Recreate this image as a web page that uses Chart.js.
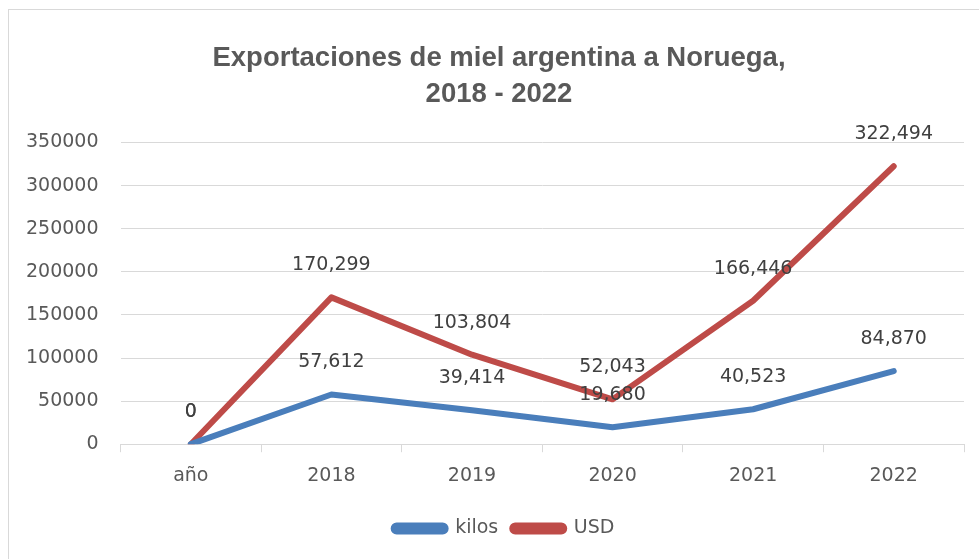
<!DOCTYPE html>
<html>
<head>
<meta charset="utf-8">
<script src="https://cdn.jsdelivr.net/npm/chart.js@4/dist/chart.umd.min.js"></script>
<style>
  html, body { margin: 0; padding: 0; background: #fff; }
  #frame { position: absolute; left: 8px; top: 9px; width: 1000px; height: 600px; border: 1px solid #d9d9d9; box-sizing: border-box; }
  #wrap { position: absolute; left: 0; top: 0; width: 979px; height: 559px; }
</style>
</head>
<body>
<div id="frame"></div>
<div id="wrap"><canvas id="c" width="979" height="559"></canvas></div>
<script>
const categories = ['año', '2018', '2019', '2020', '2021', '2022'];
const kilos = [0, 57612, 39414, 19680, 40523, 84870];
const usd = [0, 170299, 103804, 52043, 166446, 322494];
const yTicks = [0, 50000, 100000, 150000, 200000, 250000, 300000, 350000];

const labelFont = '19px "DejaVu Sans", sans-serif';

const dataLabels = {
  id: 'dataLabels',
  afterLayout(chart) {
    if (chart.legend) { chart.legend.left += 20; chart.legend.right += 20; }
    if (chart.titleBlock) { chart.titleBlock.left += 15; chart.titleBlock.right += 15; }
  },
  afterDatasetsDraw(chart) {
    const ctx = chart.ctx;
    ctx.save();
    ctx.font = labelFont;
    ctx.fillStyle = '#404040';
    ctx.textAlign = 'center';
    ctx.textBaseline = 'middle';
    chart.data.datasets.forEach((ds, i) => {
      const meta = chart.getDatasetMeta(i);
      meta.data.forEach((pt, j) => {
        const v = ds.data[j];
        ctx.fillText(v.toLocaleString('en-US'), pt.x, pt.y - 32);
      });
    });
    ctx.restore();
  }
};

new Chart(document.getElementById('c'), {
  type: 'line',
  data: {
    labels: categories,
    datasets: [
      { label: 'kilos', data: kilos, borderColor: '#4a7ebb', backgroundColor: '#4a7ebb', borderWidth: 6, pointRadius: 0, tension: 0, borderCapStyle: 'round', borderJoinStyle: 'round' },
      { label: 'USD', data: usd, borderColor: '#be4b48', backgroundColor: '#be4b48', borderWidth: 6, pointRadius: 0, tension: 0, borderCapStyle: 'round', borderJoinStyle: 'round' }
    ]
  },
  options: {
    responsive: false,
    animation: false,
    devicePixelRatio: 1,
    layout: { padding: { top: 41, left: 4, right: 15, bottom: 11 } },
    plugins: {
      title: {
        display: true,
        text: ['Exportaciones de miel argentina a Noruega,', '2018 - 2022'],
        color: '#595959',
        font: { family: '"Liberation Sans", sans-serif', size: 27.5, weight: 'bold', lineHeight: 1.3 },
        padding: { top: 0, bottom: 30 }
      },
      legend: {
        position: 'bottom',
        labels: {
          color: '#595959',
          font: { family: '"DejaVu Sans", sans-serif', size: 19 },
          boxWidth: 52,
          boxHeight: 6,
          useBorderRadius: true,
          borderRadius: 3,
          padding: 14
        }
      },
      tooltip: { enabled: false }
    },
    scales: {
      x: {
        offset: true,
        afterFit(scale) { scale.height += 6; },
        grid: { display: true, drawOnChartArea: false, drawTicks: true, tickLength: 8, color: '#d9d9d9', offset: true },
        border: { display: true, color: '#d9d9d9' },
        ticks: { color: '#595959', font: { family: '"DejaVu Sans", sans-serif', size: 19 }, padding: 12 }
      },
      y: {
        min: 0,
        max: 350000,
        afterBuildTicks(scale) { scale.ticks = yTicks.map(v => ({ value: v })); },
        grid: { color: '#d9d9d9', drawTicks: false, lineWidth: 1 },
        border: { display: false },
        ticks: { color: '#595959', font: { family: '"DejaVu Sans", sans-serif', size: 19 }, padding: 22, callback: v => String(v) }
      }
    }
  },
  plugins: [dataLabels]
});
</script>
</body>
</html>
